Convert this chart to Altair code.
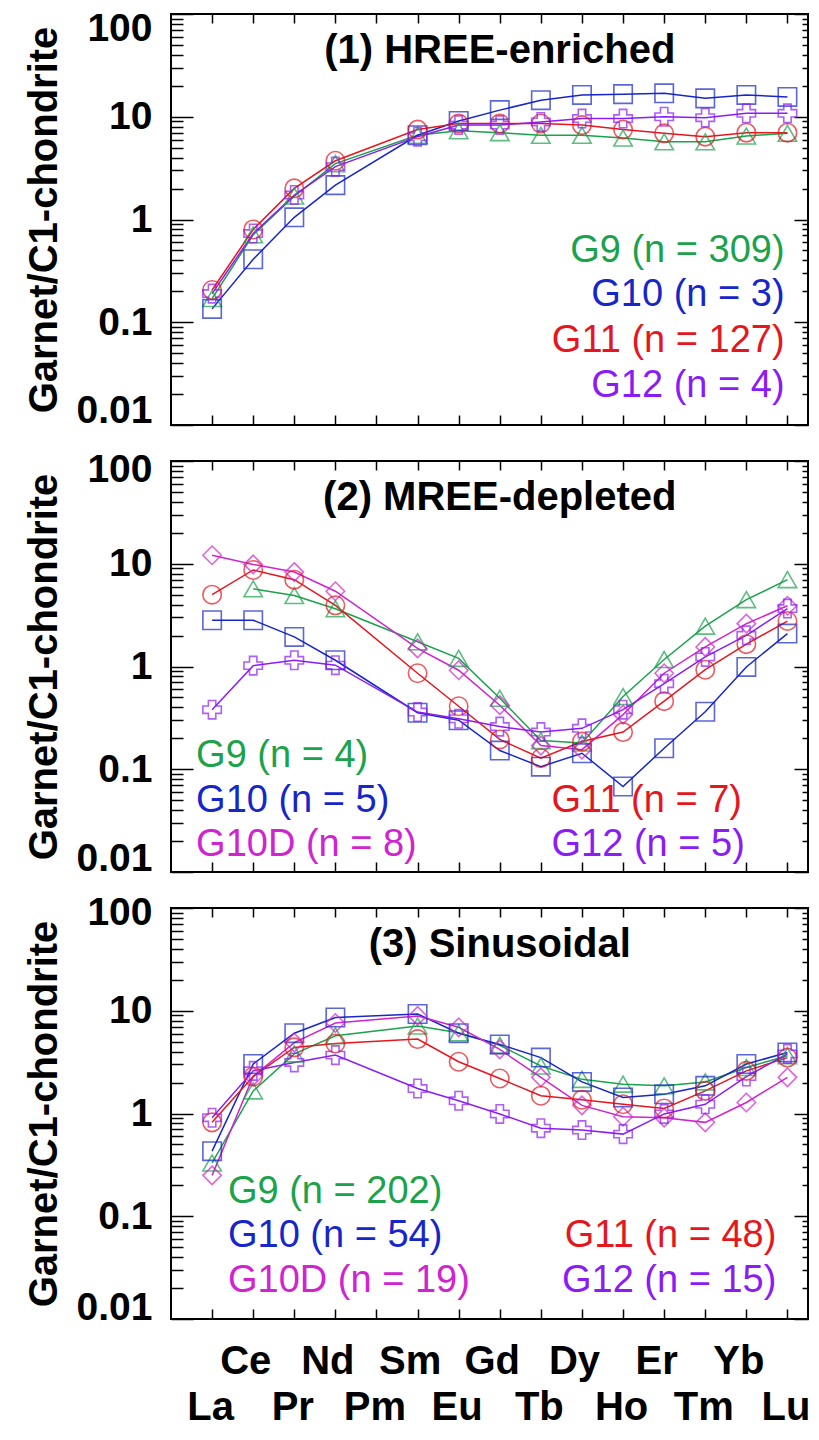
import altair as alt
import pandas as pd

# ---------------- data ----------------
ELEMENTS = ["La", "Ce", "Pr", "Nd", "Pm", "Sm", "Eu", "Gd", "Tb", "Dy", "Ho", "Er", "Tm", "Yb", "Lu"]
GROUPS = ["G9", "G10", "G10D", "G11", "G12"]
COLORS = ["#1ba24c", "#1626c9", "#cf24cf", "#e5161e", "#8b1cf5"]
SHAPES = ["triangle-up", "square", "diamond", "circle", "cross"]

# (1) HREE-enriched
P1_G9 = [0.17, 0.71, 1.69, 3.5, None, 6.6, 7.3, 7.0, 6.6, 6.6, 6.2, 5.7, 5.7, 6.5, 6.9]
P1_G10 = [0.135, 0.41, 1.05, 2.16, None, 6.6, 9.1, 11.6, 14.5, 16.3, 16.6, 16.9, 15.1, 16.3, 15.6]
P1_G11 = [0.206, 0.80, 2.01, 3.73, None, 7.5, 8.6, 8.6, 8.6, 8.3, 7.5, 6.9, 6.4, 7.0, 7.0]
P1_G12 = [0.19, 0.73, 1.73, 3.27, None, 6.4, 8.3, 8.3, 8.9, 9.6, 9.6, 10.0, 9.8, 10.8, 10.8]

# (2) MREE-depleted
P2_G9 = [None, 5.7, 4.9, 3.65, None, 1.74, 1.2, 0.49, 0.19, 0.18, 0.51, 1.17, 2.47, 4.47, 7.0]
P2_G10 = [2.82, 2.82, 1.94, 1.15, None, 0.355, 0.30, 0.152, 0.106, 0.143, 0.068, 0.16, 0.363, 0.99, 2.09]
P2_G10D = [12.1, 9.85, 8.3, 5.4, None, 1.5, 0.92, 0.42, 0.17, 0.155, 0.34, 0.86, 1.55, 2.61, 3.9]
P2_G11 = [5.0, 8.7, 7.0, 3.94, None, 0.86, 0.41, 0.195, 0.128, 0.186, 0.23, 0.46, 0.93, 1.65, 2.77]
P2_G12 = [0.38, 1.02, 1.15, 1.03, None, 0.36, 0.31, 0.26, 0.23, 0.25, 0.38, 0.68, 1.24, 2.01, 3.66]

# (3) Sinusoidal
P3_G9 = [0.33, 1.66, 3.8, 5.7, None, 7.1, 6.1, 4.6, 2.9, 2.15, 1.93, 1.86, 2.03, 2.8, 3.65]
P3_G10 = [0.43, 3.03, 6.05, 8.6, None, 9.3, 6.05, 4.7, 3.5, 2.03, 1.43, 1.54, 1.86, 3.03, 3.93]
P3_G10D = [0.25, 2.3, 4.9, 7.6, None, 8.9, 6.9, 4.2, 2.25, 1.2, 0.93, 0.91, 0.82, 1.28, 2.25]
P3_G11 = [0.82, 2.29, 4.4, 4.8, None, 5.3, 3.19, 2.19, 1.49, 1.36, 1.23, 1.12, 1.66, 2.6, 3.5]
P3_G12 = [0.91, 2.6, 3.14, 3.7, None, 1.75, 1.33, 0.99, 0.72, 0.69, 0.63, 0.99, 1.23, 2.29, 3.8]

TITLES = ["(1) HREE-enriched", "(2) MREE-depleted", "(3) Sinusoidal"]

P1_LEG_TEXT = ["G9 (n = 309)", "G10 (n = 3)", "G11 (n = 127)", "G12 (n = 4)"]
P1_LEG_GROUP = ["G9", "G10", "G11", "G12"]
P2_LEGL_TEXT = ["G9 (n = 4)", "G10 (n = 5)", "G10D (n = 8)"]
P2_LEGL_GROUP = ["G9", "G10", "G10D"]
P2_LEGR_TEXT = ["G11 (n = 7)", "G12 (n = 5)"]
P2_LEGR_GROUP = ["G11", "G12"]
P3_LEGL_TEXT = ["G9 (n = 202)", "G10 (n = 54)", "G10D (n = 19)"]
P3_LEGL_GROUP = ["G9", "G10", "G10D"]
P3_LEGR_TEXT = ["G11 (n = 48)", "G12 (n = 15)"]
P3_LEGR_GROUP = ["G11", "G12"]

Y_TITLE = "Garnet/C1-chondrite"
Y_LABELS = [0.01, 0.1, 1, 10, 100]
Y_TICKS = sorted({round(m * 10.0 ** e, 6) for e in range(-2, 2) for m in range(1, 10)} | {100.0})
X_TICKS = list(range(len(ELEMENTS)))

# ---------------- style ----------------
FONT = "Liberation Sans"
W, H = 637, 411
XSCALE = alt.Scale(domain=[-1, 14.5], nice=False, zero=False)
YSCALE = alt.Scale(type="log", domain=[0.01, 100], nice=False)
COLOR = alt.Color("g:N", scale=alt.Scale(domain=GROUPS, range=COLORS), legend=None)
MAJOR = "abs(log(datum.value)/LN10 - round(log(datum.value)/LN10)) < 0.001"


def long_df(series):
    rows = []
    for g, vals in series.items():
        for i, v in enumerate(vals):
            if v is not None:
                rows.append({"g": g, "i": i, "v": v})
    return pd.DataFrame(rows)


def X(axis=None):
    return alt.X("i:Q", scale=XSCALE, axis=axis)


def Y(axis=None):
    return alt.Y("v:Q", scale=YSCALE, axis=axis)


def legend_layer(texts, groups, xpos, ypos, align):
    d = pd.DataFrame({"t": texts, "g": groups, "i": [xpos] * len(texts), "v": ypos})
    return alt.Chart(d).mark_text(font=FONT, fontSize=38, align=align, baseline="middle", dy=3).encode(
        x=X(), y=Y(), text="t:N", color=COLOR)


def panel(series, title, legends, off_top, off_bot, bottom_labels):
    df = long_df(series)
    base = alt.Chart(df)
    ylab_axis = alt.Axis(
        orient="left", values=Y_LABELS, ticks=False, tickSize=0, domain=False, format="~g",
        labelFont=FONT, labelFontSize=39, labelFontWeight="bold", labelPadding=19,
        labelFlush=False, labelOverlap=False,
        labelOffset={"condition": [{"test": "datum.value > 50", "value": off_top},
                                   {"test": "datum.value < 0.02", "value": off_bot}], "value": 0},
        title=Y_TITLE, titleFont=FONT, titleFontSize=40, titleFontWeight="bold", titlePadding=12)
    if bottom_labels:
        names = "[" + ",".join("'%s'" % e for e in ELEMENTS) + "]"
        xlab_axis = alt.Axis(
            orient="bottom", values=X_TICKS, ticks=False, tickSize=0, domain=False,
            labelExpr=names + "[datum.value]",
            labelFont=FONT, labelFontSize=40, labelFontWeight="bold", labelBaseline="top",
            labelOverlap=False, labelFlush=False, labelBound=False,
            labelPadding={"condition": {"test": "datum.value % 2 == 1", "value": 22}, "value": 68},
            labelOffset={"condition": {"test": "datum.value % 2 == 1", "value": -8}, "value": -2},
            title=None)
    else:
        xlab_axis = None

    lines = base.mark_line(strokeWidth=1.5).encode(
        x=X(xlab_axis), y=Y(ylab_axis), color=COLOR, detail="g:N", order="i:Q")
    points = base.mark_point(filled=False, size=340, strokeWidth=1.6).encode(
        x=X(), y=Y(), color=COLOR,
        shape=alt.Shape("g:N", scale=alt.Scale(domain=GROUPS, range=SHAPES), legend=None))

    tdf = pd.DataFrame({"t": [title], "i": [7], "v": [44]})
    title_layer = alt.Chart(tdf).mark_text(font=FONT, fontSize=40, fontWeight="bold", baseline="middle").encode(
        x=X(), y=Y(), text="t:N")

    def ytick_axis(orient, major, minor):
        return alt.Axis(orient=orient, offset=-W, values=Y_TICKS, labels=False, domain=False, title=None,
                        tickSize={"condition": {"test": MAJOR, "value": major}, "value": minor},
                        tickColor="black", tickWidth=1.5)

    def xtick_axis(orient, size):
        return alt.Axis(orient=orient, offset=-H, values=X_TICKS, labels=False, domain=False, title=None,
                        tickSize=size, tickColor="black", tickWidth=1.5)

    inv = base.mark_point(opacity=0)
    tick_layers = [
        inv.encode(x=X(), y=Y(ytick_axis("right", 22, 12))),
        inv.encode(x=X(), y=Y(ytick_axis("left", 14, 6))),
        inv.encode(x=X(xtick_axis("top", 10)), y=Y()),
        inv.encode(x=X(xtick_axis("bottom", 9)), y=Y()),
    ]
    return alt.layer(lines, points, title_layer, *legends, *tick_layers).resolve_axis(
        x="independent", y="independent").properties(width=W, height=H)


p1 = panel({"G9": P1_G9, "G10": P1_G10, "G11": P1_G11, "G12": P1_G12}, TITLES[0],
           [legend_layer(P1_LEG_TEXT, P1_LEG_GROUP, 13.93, [0.524, 0.199, 0.0697, 0.0255], "right")],
           14, -15, False)
p2 = panel({"G9": P2_G9, "G10": P2_G10, "G10D": P2_G10D, "G11": P2_G11, "G12": P2_G12}, TITLES[1],
           [legend_layer(P2_LEGL_TEXT, P2_LEGL_GROUP, -0.39, [0.145, 0.0528, 0.0197], "left"),
            legend_layer(P2_LEGR_TEXT, P2_LEGR_GROUP, 8.26, [0.0528, 0.0197], "left")],
           8, -14, False)
p3 = panel({"G9": P3_G9, "G10": P3_G10, "G10D": P3_G10D, "G11": P3_G11, "G12": P3_G12}, TITLES[2],
           [legend_layer(P3_LEGL_TEXT, P3_LEGL_GROUP, 0.386, [0.186, 0.0694, 0.0253], "left"),
            legend_layer(P3_LEGR_TEXT, P3_LEGR_GROUP, 13.73, [0.0694, 0.0253], "right")],
           4, -12, True)

chart = alt.vconcat(p1, p2, p3, spacing=36, bounds="flush").properties(
    padding={"left": 15, "top": 0, "right": 0, "bottom": 0}
).configure_view(stroke="black", strokeWidth=2).configure_axis(grid=False, labelColor="black", titleColor="black")

chart.save("out.html", embed_options={"renderer": "svg", "actions": False})
